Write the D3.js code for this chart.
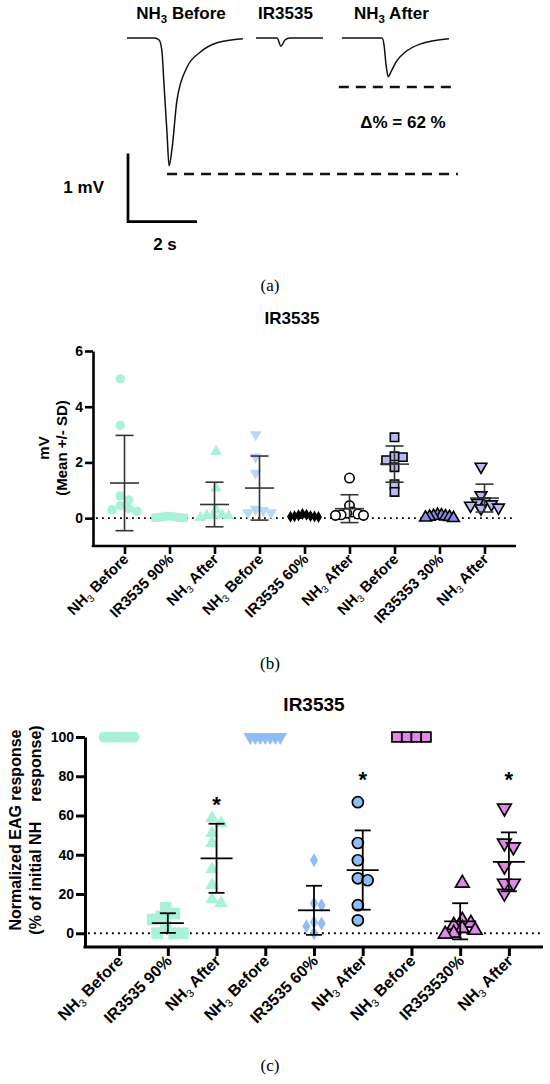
<!DOCTYPE html>
<html lang="en">
<head>
<meta charset="UTF-8">
<title>IR3535 EAG responses</title>
<style>
  body { margin: 0; background: #fff; }
  text { font-family: "Liberation Sans", Arial, sans-serif; }
</style>
</head>
<body>
<svg id="svg" width="550" height="1084"></svg>
<script src="https://d3js.org/d3.v7.min.js"></script>
<script>
// ---- panel (a): points (time s, mV) ----
const traceBefore = [[0, 0], [0.8, 0], [0.93, -0.03], [1.01, -0.18], [1.07, -0.66], [1.16, -1.4], [1.22, -1.88],
  [1.3, -1.65], [1.45, -0.91], [1.74, -0.43], [2.12, -0.21], [2.61, -0.07], [3.36, -0.01]]
const traceIR = [[3.74, 0], [4.35, 0], [4.46, -0.12], [4.58, -0.03], [4.72, 0], [5.68, 0]]
const traceAfter = [[6.23, 0], [7.39, 0], [7.45, -0.1], [7.51, -0.4], [7.57, -0.57], [7.65, -0.5], [7.8, -0.35],
  [8.06, -0.21], [8.49, -0.09], [9.33, -0.01]]
const traceLabels = ['NH3 Before', 'IR3535', 'NH3 After']
const peakLines = [[-2.0, 1.16, 9.59], [-0.72, 6.14, 9.39]] // mV level, from s, to s
const deltaText = 'Δ% = 62 %'

// ---- panel (b): raw responses, mV ----
const mvCategories = ['NH3 Before', 'IR3535 90%', 'NH3 After', 'NH3 Before', 'IR3535 60%', 'NH3 After',
  'NH3 Before', 'IR35353 30%', 'NH3 After']
const mvValues = [
  [5.0, 3.33, 0.8, 0.65, 0.45, 0.35, 0.3, 0.25],
  [0.08, 0.06, 0.05, 0.04, 0.03, 0.02, 0.02, 0.01],
  [2.4, 1.08, 0.3, 0.12, 0.1, 0.08, 0.1, 0.02],
  [3.0, 2.2, 1.62, 0.32, 0.28, 0.2, 0.2],
  [0.15, 0.12, 0.1, 0.08, 0.07, 0.06, 0.05, 0.04],
  [1.44, 0.45, 0.22, 0.18, 0.15, 0.12, 0.1, 0.1],
  [2.9, 2.22, 2.19, 2.08, 1.83, 1.22, 0.94],
  [0.12, 0.1, 0.08, 0.06, 0.05, 0.04, 0.02, 0.0],
  [1.85, 0.82, 0.6, 0.55, 0.5, 0.45, 0.38, 0.35]
]
const mvMean = [1.26, 0.04, 0.49, 1.08, 0.08, 0.34, 1.94, 0.05, 0.72]
const mvSD = [1.71, 0.02, 0.8, 1.15, 0.04, 0.5, 0.65, 0.04, 0.5]
const mvTicks = [0, 2, 4, 6]

// ---- panel (c): normalised responses, % ----
const pctCategories = ['NH3 Before', 'IR3535 90%', 'NH3 After', 'NH3 Before', 'IR3535 60%', 'NH3 After',
  'NH3 Before', 'IR353530%', 'NH3 After']
const pctValues = [
  [100, 100, 100, 100, 100, 100, 100, 100],
  [13, 10, 8.5, 7, 3.5, 0, 0, 0],
  [58.7, 56, 51, 46, 32.6, 24.5, 17.3, 15.3],
  [100, 100, 100, 100, 100, 100, 100],
  [37.2, 15.3, 14.3, 5.6, 5, 3.6, 0],
  [66.8, 46, 37.2, 28, 27, 14.3, 6.6],
  [100, 100, 100, 100],
  [25.5, 6.6, 5.1, 4, 2.5, 1.5, 0, -0.5],
  [63.8, 46, 44, 34.2, 25.5, 25.5, 20.4]
]
const pctMean = [100, 5.2, 38.2, 100, 11.7, 32.2, 100, 6.1, 36.4]
const pctSD = [0, 5, 17.6, 0, 12.5, 20.2, 0, 9.2, 15]
const starAt = [null, null, 68, null, null, 81, null, null, 81]
const pctTicks = [0, 20, 40, 60, 80, 100]

// ---- marker styles ----
const mint = '#a9f1da'
const tri = d3.symbolTriangle
const bStyle = [
  { s: d3.symbolCircle, f: mint }, { s: d3.symbolSquare, f: mint }, { s: tri, f: mint },
  { s: tri, f: '#bad6f8', down: true }, { s: d3.symbolDiamond, f: '#000' }, { s: d3.symbolCircle, f: '#fff', k: '#000' },
  { s: d3.symbolSquare, f: '#babaf3', k: '#000' }, { s: tri, f: '#8b8bee', k: '#000' }, { s: tri, f: '#babaf3', k: '#000', down: true }
]
const cStyle = [
  { s: d3.symbolCircle, f: mint }, { s: d3.symbolSquare, f: mint, big: true }, { s: tri, f: mint },
  { s: tri, f: '#8ebdf7', down: true }, { s: d3.symbolDiamond, f: '#8ebdf7' }, { s: d3.symbolCircle, f: '#8ebdf7', k: '#000' },
  { s: d3.symbolSquare, f: '#e286ea', k: '#000' }, { s: tri, f: '#e286ea', k: '#000' }, { s: tri, f: '#e286ea', k: '#000', down: true }
]

const svg = d3.select('#svg')

// text with "NH3" written as NH + subscript 3
function rich(sel, str, fs, subWeight) {
  str.split('NH3').forEach((b, k) => {
    if (k > 0) {
      sel.append('tspan').text('NH')
      sel.append('tspan').text('3').attr('font-size', fs * 0.68).attr('font-weight', subWeight).attr('dy', fs * 0.22)
      sel.append('tspan').text(b).attr('dy', -fs * 0.22)
    } else if (b) sel.append('tspan').text(b)
  })
}

// ===== panel (a) =====
const tx = d3.scaleLinear().domain([0, 2]).range([127, 196])
const ty = d3.scaleLinear().domain([0, -1]).range([38, 106])
const traceLine = d3.line().x(d => tx(d[0])).y(d => ty(d[1])).curve(d3.curveMonotoneX)
const pa = svg.append('g').style('font-family', '"Open Sans", "Noto Sans", sans-serif').attr('font-weight', 700)

pa.selectAll('path.trace').data([traceBefore, traceIR, traceAfter]).join('path')
  .attr('class', 'trace').attr('d', traceLine)
  .attr('fill', 'none').attr('stroke', '#111').attr('stroke-width', 1.5)

pa.selectAll('line.peak').data(peakLines).join('line')
  .attr('x1', d => tx(d[1])).attr('x2', d => tx(d[2]))
  .attr('y1', d => ty(d[0])).attr('y2', d => ty(d[0]))
  .attr('stroke', '#111').attr('stroke-width', 2.5).attr('stroke-dasharray', '10,7')

;[traceBefore, traceIR, traceAfter].forEach((t, i) => {
  const cx = (tx(t[0][0]) + tx(t[t.length - 1][0])) / 2 - 4
  const lab = pa.append('text').attr('x', cx).attr('y', 19).attr('text-anchor', 'middle').attr('font-size', 17)
  rich(lab, traceLabels[i], 17, 700)
})

pa.append('text').attr('x', 403).attr('y', 128).attr('text-anchor', 'middle').attr('font-size', 17).text(deltaText)

// scale bar: 1 mV, 2 s
const bar0 = [tx(0) + 1, ty(-2.7)]
pa.append('path')
  .attr('d', `M${bar0[0]},${bar0[1] - (ty(-1) - ty(0))}V${bar0[1]}H${bar0[0] + tx(2) - tx(0)}`)
  .attr('fill', 'none').attr('stroke', '#000').attr('stroke-width', 2.7)
pa.append('text').attr('x', 104).attr('y', 193).attr('text-anchor', 'end').attr('font-size', 17).text('1 mV')
pa.append('text').attr('x', 165).attr('y', 250).attr('text-anchor', 'middle').attr('font-size', 17).text('2 s')

// ===== dot plots =====
function dodge(vals, y, dia, maxHalf) {
  const order = d3.range(vals.length).sort((p, q) => vals[q] - vals[p])
  const off = vals.map(() => 0)
  const placed = []
  const step = dia * 0.5
  order.forEach(i => {
    const py = y(vals[i])
    for (let k = 0; k < 60; k++) {
      const dx = (k % 2 ? 1 : -1) * Math.ceil(k / 2) * step
      if (placed.every(p => Math.hypot(p.x - dx, p.y - py) >= dia * 0.85)) {
        off[i] = dx; placed.push({ x: dx, y: py }); break
      }
    }
  })
  const mid = (d3.min(off) + d3.max(off)) / 2
  let res = off.map(o => o - mid)
  const ext = d3.max(res, Math.abs)
  if (ext > maxHalf) res = res.map(o => o * maxHalf / ext)
  return res
}

function dotPlot(o) {
  const g = svg.append('g')
  const x = d3.scalePoint().domain(d3.range(o.cats.length)).range(o.xr).padding(0.7)
  const y = d3.scaleLinear().domain(o.yd).range(o.yr)
  const axY = o.yr[0]

  // title
  g.append('text').attr('x', o.titleX).attr('y', o.titleY).attr('text-anchor', 'middle')
    .attr('font-weight', 700).attr('font-size', o.titleSize).text('IR3535')

  // zero line
  g.append('line').attr('x1', o.xr[0] + 3).attr('x2', o.xr[1]).attr('y1', y(0)).attr('y2', y(0))
    .attr('stroke', '#000').attr('stroke-width', 1.8).attr('stroke-dasharray', '1.8,4.2')

  const under = g.append('g')
  const pts = g.append('g')
  const over = g.append('g')

  // points
  o.values.forEach((vals, i) => {
    const st = o.styles[i]
    let size = st.s === d3.symbolDiamond ? o.sym * 0.6 : st.s === tri ? o.sym * 0.85 : o.sym
    if (st.big) size *= 1.45
    const offs = dodge(vals, y, Math.sqrt(size), o.maxHalf)
    pts.selectAll(null).data(vals).join('path')
      .attr('d', d3.symbol(st.s, size))
      .attr('transform', (d, j) => `translate(${x(i) + offs[j]},${y(d)})` + (st.down ? ' rotate(180)' : ''))
      .attr('fill', st.f).attr('stroke', st.k || 'none').attr('stroke-width', o.symStroke)
  })

  // mean and SD; tiny SD bars sit behind the points
  o.means.forEach((m, i) => {
    const sd = o.sds[i]
    const parent = Math.abs(y(0) - y(sd)) < 3 ? under : over
    const b = parent.append('g').attr('stroke', o.barColor).attr('stroke-width', o.barW)
    const cx = x(i)
    b.append('line').attr('x1', cx - o.meanHalf).attr('x2', cx + o.meanHalf).attr('y1', y(m)).attr('y2', y(m))
    b.append('line').attr('x1', cx).attr('x2', cx).attr('y1', y(m + sd)).attr('y2', y(m - sd))
    ;[m + sd, m - sd].forEach(v => b.append('line')
      .attr('x1', cx - o.capHalf).attr('x2', cx + o.capHalf).attr('y1', y(v)).attr('y2', y(v)))
  })

  // significance stars
  const stars = (o.stars || []).map((v, i) => ({ v, i })).filter(d => d.v != null)
  g.selectAll('text.star').data(stars).join('text').attr('class', 'star')
    .attr('x', d => x(d.i)).attr('y', d => y(d.v) + 12.5)
    .attr('text-anchor', 'middle').attr('font-weight', 700).attr('font-size', 22).text('*')

  // axes
  g.append('g').attr('transform', `translate(${o.xr[0]},0)`)
    .call(d3.axisLeft(y).tickValues(o.ticks).tickFormat(d3.format('d')).tickSize(o.tick).tickSizeOuter(0).tickPadding(2))
    .call(a => a.selectAll('path,line').attr('stroke-width', o.axW))
    .call(a => a.selectAll('text').attr('font-size', 14).attr('font-weight', 700)
      .style('font-family', '"Liberation Sans", Arial, sans-serif'))
  g.append('g').attr('transform', `translate(0,${axY})`)
    .call(d3.axisBottom(x).tickSize(o.tick).tickSizeOuter(0).tickFormat(''))
    .call(a => a.selectAll('path,line').attr('stroke-width', o.axW))
    .call(a => a.select('.domain').attr('d', `M${o.xr[0] - o.axW / 2},0H${o.xr[1]}`))

  o.cats.forEach((c, i) => {
    const t = g.append('text')
      .attr('transform', `translate(${x(i) + o.labDx},${axY + o.tick + o.labDy}) rotate(-45)`)
      .attr('text-anchor', 'end').attr('font-weight', 700).attr('font-size', o.labSize)
    rich(t, c, o.labSize, 400)
  })

  // y label
  o.yLabel.forEach(ln => {
    const t = g.append('text').attr('transform', `translate(${ln.x},${o.yLabelY}) rotate(-90)`)
      .attr('text-anchor', 'middle').attr('font-weight', 700).attr('font-size', o.yLabelSize)
    ln.parts.forEach((p, j) => t.append('tspan').attr('dx', j ? 20 : 0).text(p))
  })
  return g
}

dotPlot({
  cats: mvCategories, values: mvValues, means: mvMean, sds: mvSD, styles: bStyle, ticks: mvTicks,
  xr: [93, 516], yd: [-1, 6], yr: [546, 351], tick: 8, axW: 2.6,
  titleX: 292, titleY: 324, titleSize: 17,
  sym: 70, symStroke: 1.6, maxHalf: 14, barColor: '#333', barW: 1.6, meanHalf: 14.5, capHalf: 9,
  labSize: 15, labDx: 5, labDy: 6,
  yLabel: [{ x: 49, parts: ['mV'] }, { x: 67, parts: ['(Mean +/- SD)'] }], yLabelY: 448, yLabelSize: 15
})

dotPlot({
  cats: pctCategories, values: pctValues, means: pctMean, sds: pctSD, styles: cStyle, ticks: pctTicks,
  stars: starAt,
  xr: [85, 543], yd: [-7, 100], yr: [947, 737], tick: 9, axW: 3,
  titleX: 314, titleY: 711, titleSize: 19,
  sym: 95, symStroke: 1.7, maxHalf: 15, barColor: '#000', barW: 1.8, meanHalf: 16, capHalf: 8,
  labSize: 16, labDx: 5, labDy: 6,
  yLabel: [{ x: 21, parts: ['Normalized EAG response'] }, { x: 41, parts: ['(% of initial NH', 'response)'] }],
  yLabelY: 830, yLabelSize: 16
})

// sub-figure letters
;[['(a)', 291], ['(b)', 669], ['(c)', 1071]].forEach(([t, y]) => {
  svg.append('text').attr('x', 270).attr('y', y).attr('text-anchor', 'middle')
    .style('font-family', '"Liberation Serif", "DejaVu Serif", serif').attr('font-size', 17).text(t)
})
</script>
</body>
</html>
